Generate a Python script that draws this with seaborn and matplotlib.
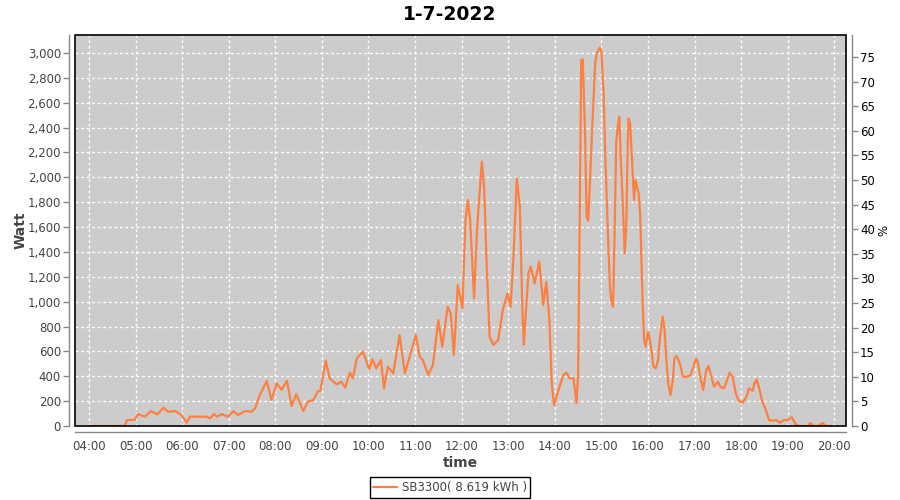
import pandas as pd
import matplotlib.pyplot as plt
import matplotlib.dates as mdates
from matplotlib.patches import Rectangle
from matplotlib.ticker import FuncFormatter, MultipleLocator
import seaborn as sns

# readings of the SB3300 inverter on 1-7-2022
times = [
    "04:00", "04:46", "04:49", "04:59", "05:03", "05:12", "05:20", "05:28", "05:36", "05:42",
    "05:51", "05:59", "06:06", "06:10", "06:31", "06:36", "06:41", "06:45", "06:51", "06:59",
    "07:06", "07:12", "07:21", "07:29", "07:34", "07:40", "07:49", "07:55", "08:02", "08:08",
    "08:15", "08:21", "08:27", "08:36", "08:42", "08:49", "08:55", "08:58", "09:05", "09:10",
    "09:19", "09:25", "09:30", "09:36", "09:40", "09:45", "09:53", "10:01", "10:05", "10:10",
    "10:16", "10:20", "10:25", "10:32", "10:40", "10:47", "10:53", "11:01", "11:06", "11:10",
    "11:17", "11:23", "11:30", "11:35", "11:42", "11:46", "11:50", "11:55", "12:01", "12:05",
    "12:08", "12:11", "12:16", "12:20", "12:26", "12:29", "12:32", "12:36", "12:41", "12:47",
    "12:53", "12:59", "13:03", "13:07", "13:11", "13:15", "13:18", "13:20", "13:26", "13:29",
    "13:34", "13:40", "13:45", "13:49", "13:53", "13:56", "13:59", "14:04", "14:11", "14:15",
    "14:19", "14:24", "14:28", "14:30", "14:32", "14:34", "14:36", "14:39", "14:41", "14:43",
    "14:45", "14:48", "14:52", "14:54", "14:58", "15:00", "15:03", "15:05", "15:07", "15:09",
    "15:11", "15:13", "15:15", "15:17", "15:19", "15:21", "15:23", "15:25", "15:27", "15:30",
    "15:32", "15:34", "15:35", "15:37", "15:39", "15:41", "15:42", "15:44", "15:46", "15:48",
    "15:50", "15:52", "15:53", "15:55", "15:57", "16:00", "16:02", "16:05", "16:07", "16:10",
    "16:13", "16:15", "16:19", "16:21", "16:24", "16:26", "16:29", "16:32", "16:34", "16:37",
    "16:41", "16:45", "16:50", "16:55", "17:02", "17:04", "17:08", "17:11", "17:15", "17:18",
    "17:20", "17:25", "17:30", "17:33", "17:38", "17:41", "17:45", "17:49", "17:53", "17:57",
    "18:02", "18:07", "18:10", "18:15", "18:17", "18:20", "18:24", "18:27", "18:31", "18:36",
    "18:41", "18:45", "18:50", "18:55", "19:00", "19:05", "19:11", "19:15", "19:26", "19:29",
    "19:33", "19:39", "19:45", "19:49", "19:56",
]
watts = [
    0, 0, 48, 50, 96, 75, 120, 93, 147, 115,
    120, 88, 27, 75, 75, 62, 96, 75, 96, 75,
    120, 88, 120, 115, 142, 249, 362, 209, 343, 290,
    364, 161, 257, 120, 196, 209, 281, 281, 525, 383,
    335, 356, 308, 429, 383, 544, 598, 456, 536, 464,
    531, 303, 477, 423, 732, 423, 557, 732, 557, 531,
    410, 490, 852, 638, 959, 906, 571, 1134, 946, 1656,
    1817, 1656, 1027, 1603, 2125, 1911, 1335, 718, 651, 691,
    933, 1067, 959, 1389, 1991, 1763, 986, 651, 1228, 1281,
    1147, 1321, 973, 1160, 852, 343, 169, 276, 410, 429,
    383, 383, 182, 423, 1630, 2943, 2950, 2326, 1683, 1650,
    1924, 2380, 2916, 2996, 3044, 3009, 2648, 2165, 1790, 1441,
    1120, 1000, 959, 1550, 2272, 2406, 2487, 2139, 1870, 1389,
    1603, 2300, 2473, 2433, 2192, 1951, 1817, 1978, 1924, 1870,
    1683, 1254, 1013, 691, 638, 758, 705, 584, 477, 464,
    531, 691, 879, 798, 504, 343, 249, 370, 544, 563,
    504, 396, 396, 410, 544, 517, 370, 290, 450, 483,
    437, 316, 356, 316, 303, 356, 429, 396, 263, 201,
    188, 236, 303, 284, 343, 375, 284, 196, 142, 48,
    43, 48, 27, 48, 48, 70, 8, 0, 0, 24,
    0, 0, 24, 0, 0,
]
day = "2022-07-01"
title = "1-7-2022"
series_label = "SB3300( 8.619 kWh )"

df = pd.DataFrame({"time": pd.to_datetime(day + " " + pd.Series(times)), "watt": watts})

sns.set_style("darkgrid", {"axes.facecolor": "#cccccc"})
plt.rcParams["font.family"] = ["DejaVu Sans"]

fig, ax = plt.subplots(figsize=(9, 5), dpi=100)
fig.subplots_adjust(left=0.0833, right=0.94, bottom=0.148, top=0.93)

sns.lineplot(data=df, x="time", y="watt", ax=ax, color="#ff7f3f", lw=1.6, legend=False)

ax.set_xlim(pd.Timestamp(day + " 03:42"), pd.Timestamp(day + " 20:15"))
ax.set_ylim(0, 3144)
ax.xaxis.set_major_locator(mdates.HourLocator(byhour=range(4, 21)))
ax.xaxis.set_major_formatter(mdates.DateFormatter("%H:%M"))
ax.yaxis.set_major_locator(MultipleLocator(200))
ax.yaxis.set_major_formatter(FuncFormatter(lambda v, p: f"{v:,.0f}"))
ax.grid(True, color="white", linestyle=(0, (2, 2)), linewidth=1)

ax.tick_params(axis="both", length=4, width=1, color="#888888",
               labelcolor="#444444", labelsize=8.5, pad=2)
for side in ["top", "right"]:
    ax.spines[side].set_visible(False)
for side in ["left", "bottom"]:
    ax.spines[side].set_position(("outward", 4))
    ax.spines[side].set_color("#888888")
    ax.spines[side].set_linewidth(1)

ax.set_xlabel("time", fontsize=10, fontweight="bold", color="#444444", labelpad=2)
ax.set_ylabel("Watt", fontsize=10, fontweight="bold", color="#444444", labelpad=0)

ax2 = ax.twinx()
ax2.set_ylim(0, 79.5)
ax2.yaxis.set_major_locator(MultipleLocator(5))
ax2.grid(False)
ax2.tick_params(axis="y", length=4, width=1, color="#888888",
                labelcolor="black", labelsize=8.5, pad=2)
for side in ["top", "left", "bottom"]:
    ax2.spines[side].set_visible(False)
ax2.spines["right"].set_position(("outward", 4))
ax2.spines["right"].set_color("#888888")
ax2.spines["right"].set_linewidth(1)
ax2.set_ylabel("%", fontsize=8.5, color="black", labelpad=2)

# black frame round the plot area
ax2.add_patch(Rectangle((0, 0), 1, 1, transform=ax2.transAxes, fill=False,
                        edgecolor="black", linewidth=1.2, zorder=10, clip_on=False))

fig.text(0.5, 0.972, title, ha="center", va="center", fontsize=13.5,
         fontweight="bold", color="black")

leg = fig.legend(ax.get_lines()[:1], [series_label], loc="center",
                 bbox_to_anchor=(0.5, 0.025), fontsize=8.5, frameon=True,
                 fancybox=False, handlelength=2, borderpad=0.3, handletextpad=0.4)
leg.get_frame().set_edgecolor("black")
leg.get_frame().set_facecolor("white")
leg.get_frame().set_alpha(1)
leg.get_frame().set_linewidth(1)
for t in leg.get_texts():
    t.set_color("#444444")

plt.savefig("out.png", dpi=100)
